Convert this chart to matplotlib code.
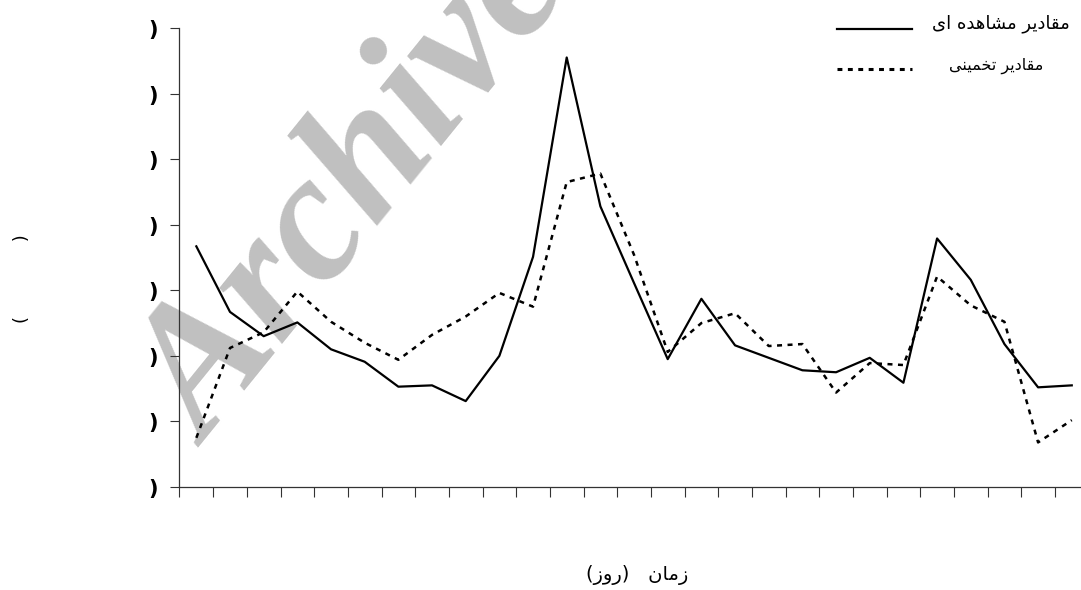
import numpy as np
import matplotlib
matplotlib.use('Agg')
import matplotlib.pyplot as plt
from matplotlib.lines import Line2D

# values (y axis in tick units, 0..7)
days = list(range(1, 28))
observed = [3.67, 2.67, 2.30, 2.51, 2.10, 1.91, 1.53, 1.55, 1.31, 2.00,
            3.51, 6.55, 4.28, 3.11, 1.95, 2.87, 2.16, 1.97, 1.78, 1.75,
            1.97, 1.59, 3.79, 3.16, 2.18, 1.52, 1.55]
estimated = [0.75, 2.12, 2.36, 2.98, 2.52, 2.20, 1.94, 2.32, 2.60, 2.96,
             2.75, 4.65, 4.78, 3.54, 2.06, 2.50, 2.65, 2.15, 2.18, 1.44,
             1.89, 1.86, 3.21, 2.77, 2.52, 0.68, 1.02]
ytick_vals = [0, 1, 2, 3, 4, 5, 6, 7]
ytick_text = [')'] * 8

label_obs = 'مقادیر مشاهده ای'
label_est = 'مقادیر تخمینی'
xlabel = 'زمان   (روز)'
ylabel = '(             )'

# simple persian shaping, matplotlib has no bidi / joining support
FORMS = {
    'ا': ('\uFE8D', '\uFE8E', None, None),
    'د': ('\uFEA9', '\uFEAA', None, None),
    'ر': ('\uFEAD', '\uFEAE', None, None),
    'ز': ('\uFEAF', '\uFEB0', None, None),
    'و': ('\uFEED', '\uFEEE', None, None),
    'م': ('\uFEE1', '\uFEE2', '\uFEE3', '\uFEE4'),
    'ق': ('\uFED5', '\uFED6', '\uFED7', '\uFED8'),
    'ش': ('\uFEB5', '\uFEB6', '\uFEB7', '\uFEB8'),
    'ه': ('\uFEE9', '\uFEEA', '\uFEEB', '\uFEEC'),
    'ت': ('\uFE95', '\uFE96', '\uFE97', '\uFE98'),
    'خ': ('\uFEA5', '\uFEA6', '\uFEA7', '\uFEA8'),
    'ن': ('\uFEE5', '\uFEE6', '\uFEE7', '\uFEE8'),
    'ی': ('\uFEEF', '\uFEF0', '\uFEF3', '\uFEF4'),
}


def shape(text):
    out = []
    for i, c in enumerate(text):
        if c not in FORMS:
            out.append(c)
            continue
        prev = text[i - 1] if i > 0 else ''
        nxt = text[i + 1] if i + 1 < len(text) else ''
        jp = prev in FORMS and FORMS[prev][2] is not None
        jn = nxt in FORMS and FORMS[c][2] is not None
        if jp and jn:
            out.append(FORMS[c][3])
        elif jp:
            out.append(FORMS[c][1])
        elif jn:
            out.append(FORMS[c][2])
        else:
            out.append(FORMS[c][0])
    vis = ''.join(reversed(out))
    return vis.translate(str.maketrans('()', ')('))


fig = plt.figure(figsize=(10.81, 5.90), dpi=100)
# axes runs a little past the right edge, like the original crop
ax = fig.add_axes([179.5 / 1081, 1 - 487 / 590, (1088.6 - 179.5) / 1081, (487 - 28) / 590])

x = np.arange(len(days))
ax.plot(x, observed, color='black', lw=1.6, zorder=3)
ax.plot(x, estimated, color='black', lw=1.8, linestyle=(0, (2, 2.2)), zorder=3)

ax.set_xlim(-0.5, len(days) - 0.5)
ax.set_ylim(0, 7)
ax.set_xticks(np.arange(len(days)) - 0.5)
ax.set_xticklabels([])
ax.set_yticks(ytick_vals)
ax.set_yticklabels(ytick_text, fontsize=15, fontweight='bold', family='DejaVu Sans')
ax.tick_params(axis='x', direction='out', length=7, width=0.8, color='#333333')
ax.tick_params(axis='y', direction='out', length=6.5, width=0.8, color='#333333', pad=9)
for s in ['top', 'right']:
    ax.spines[s].set_visible(False)
for s in ['left', 'bottom']:
    ax.spines[s].set_linewidth(0.9)
    ax.spines[s].set_color('#333333')

# watermark, under the lines
ax.text(208 / 1081, 1 - 448 / 590, 'Archive', transform=fig.transFigure, clip_on=False,
        family='Liberation Serif', fontsize=131, fontweight='bold', style='italic',
        color='#c0c0c0', rotation=51, rotation_mode='anchor', ha='left', va='baseline',
        zorder=1)

# legend drawn by hand, the sample lines sit left of right-aligned text
fig.add_artist(Line2D([837 / 1081, 912 / 1081], [1 - 29 / 590, 1 - 29 / 590],
                      color='black', lw=1.6))
fig.add_artist(Line2D([837 / 1081, 912 / 1081], [1 - 69 / 590, 1 - 69 / 590],
                      color='black', lw=2.2, linestyle=(0, (1.6, 1.8))))
fig.text(1070 / 1081, 1 - 24 / 590, shape(label_obs), fontsize=13, ha='right', va='center',
         family='DejaVu Sans')
fig.text(1043 / 1081, 1 - 66 / 590, shape(label_est), fontsize=11.5, ha='right', va='center',
         family='DejaVu Sans')

fig.text(637 / 1081, 1 - 575 / 590, shape(xlabel), fontsize=14, ha='center', va='center',
         family='DejaVu Sans')
fig.text(22 / 1081, 1 - 279 / 590, ylabel, fontsize=13, rotation=90, ha='center', va='center')

fig.savefig('out.png', dpi=100)
